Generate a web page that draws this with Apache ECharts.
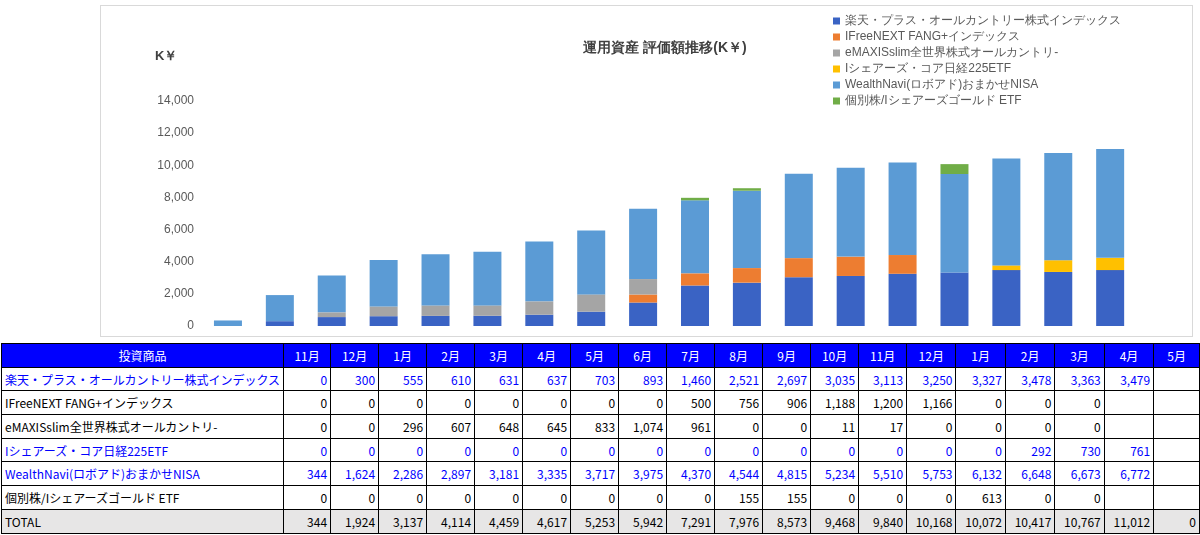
<!DOCTYPE html>
<html><head><meta charset="utf-8">
<script src="https://cdn.jsdelivr.net/npm/echarts@6/dist/echarts.min.js"></script>
<style>
body{margin:0;background:#fff;font-family:"Noto Sans CJK JP","Noto Sans",sans-serif;}
#box{position:absolute;left:100px;top:5px;width:1091px;height:330px;border:1px solid #d9d9d9;}
#c{position:absolute;left:0;top:0;width:1200px;height:340px;}
table{position:absolute;left:1px;top:343px;border-collapse:collapse;font-size:12px;table-layout:fixed;}
td{border:1px solid #000;height:22.7px;padding:0 3px;text-align:right;white-space:nowrap;overflow:hidden;}
td.n{text-align:left;}
tr.h td{background:#0000ff;color:#fff;text-align:center;}
tr.b td{color:#0000ff;}
tr.t td{background:#e7e6e6;}
</style></head><body>
<div id="box"></div>
<div id="c"></div>
<table id="tb"></table>
<script>
const months=['11月','12月','1月','2月','3月','4月','5月','6月','7月','8月','9月','10月','11月','12月','1月','2月','3月','4月','5月'];
const names=['楽天・プラス・オールカントリー株式インデックス','IFreeNEXT FANG+インデックス','eMAXISslim全世界株式オールカントリ-','Iシェアーズ・コア日経225ETF','WealthNavi(ロボアド)おまかせNISA','個別株/Iシェアーズゴールド ETF'];
const rakuten=[0,300,555,610,631,637,703,893,1460,2521,2697,3035,3113,3250,3327,3478,3363,3479,null];
const fang=[0,0,0,0,0,0,0,0,500,756,906,1188,1200,1166,0,0,0,null,null];
const emaxis=[0,0,296,607,648,645,833,1074,961,0,0,11,17,0,0,0,0,null,null];
const ishares=[0,0,0,0,0,0,0,0,0,0,0,0,0,0,0,292,730,761,null];
const wealth=[344,1624,2286,2897,3181,3335,3717,3975,4370,4544,4815,5234,5510,5753,6132,6648,6673,6772,null];
const kobetsu=[0,0,0,0,0,0,0,0,0,155,155,0,0,0,613,0,0,null,null];
const total=[344,1924,3137,4114,4459,4617,5253,5942,7291,7976,8573,9468,9840,10168,10072,10417,10767,11012,0];
const legendNames=['楽天・プラス・オールカントリー株式インデックス','IFreeNEXT FANG+インデックス','eMAXISslim全世界株式オールカントリ-','Iシェアーズ・コア日経225ETF','WealthNavi(ロボアド)おまかせNISA','個別株/Iシェアーズゴールド ETF'];
const colors=['#3a63c4','#ed7d31','#a5a5a5','#ffc000','#5b9bd5','#70ad47'];
const series=[rakuten,fang,emaxis,ishares,wealth,kobetsu].map((d,i)=>({
  name:legendNames[i],type:'bar',stack:'s',data:d,barWidth:28,itemStyle:{color:colors[i]}}));
series.push({name:'total',type:'line',data:total,symbol:'none',lineStyle:{opacity:0},
  label:{show:true,position:'top',distance:6,color:'#404040',fontSize:12,formatter:p=>p.value.toLocaleString('en-US')}});
const ch=echarts.init(document.getElementById('c'));
ch.setOption({
  animation:false,
  title:{text:'運用資産 評価額推移(K￥)',left:660,top:36,textAlign:'center',textStyle:{fontSize:14,fontWeight:'bold',color:'#404040'}},
  graphic:[{type:'text',left:155,top:50,style:{text:'K￥',fontSize:13,fontWeight:'bold',fill:'#404040'}}],
  legend:{data:legendNames,orient:'vertical',left:828,top:10,itemWidth:7,itemHeight:7,itemGap:4,icon:'rect',
    textStyle:{fontSize:12,color:'#595959'}},
  grid:{left:202,right:12,top:101,bottom:14},
  xAxis:{type:'category',data:months,axisLabel:{show:false},axisTick:{show:false},axisLine:{show:false}},
  yAxis:{type:'value',min:0,max:14000,interval:2000,splitLine:{show:false},
    axisLabel:{color:'#595959',fontSize:12,formatter:v=>v.toLocaleString('en-US')}},
  series
});
const fmt=v=>v===null?'':v.toLocaleString('en-US');
let h='<colgroup><col style="width:218px">'+months.map(()=>'<col style="width:51px">').join('')+'</colgroup>';
h+='<tr class="h"><td>投資商品</td>'+months.map(m=>'<td>'+m+'</td>').join('')+'</tr>';
const rows=[[names[0],rakuten,'b'],[names[1],fang,''],[names[2],emaxis,''],[names[3],ishares,'b'],[names[4],wealth,'b'],[names[5],kobetsu,''],['TOTAL',total,'t']];
rows.forEach(r=>{h+='<tr class="'+r[2]+'"><td class="n">'+r[0]+'</td>'+r[1].map(v=>'<td>'+fmt(v)+'</td>').join('')+'</tr>';});
document.getElementById('tb').innerHTML=h;
</script></body></html>
